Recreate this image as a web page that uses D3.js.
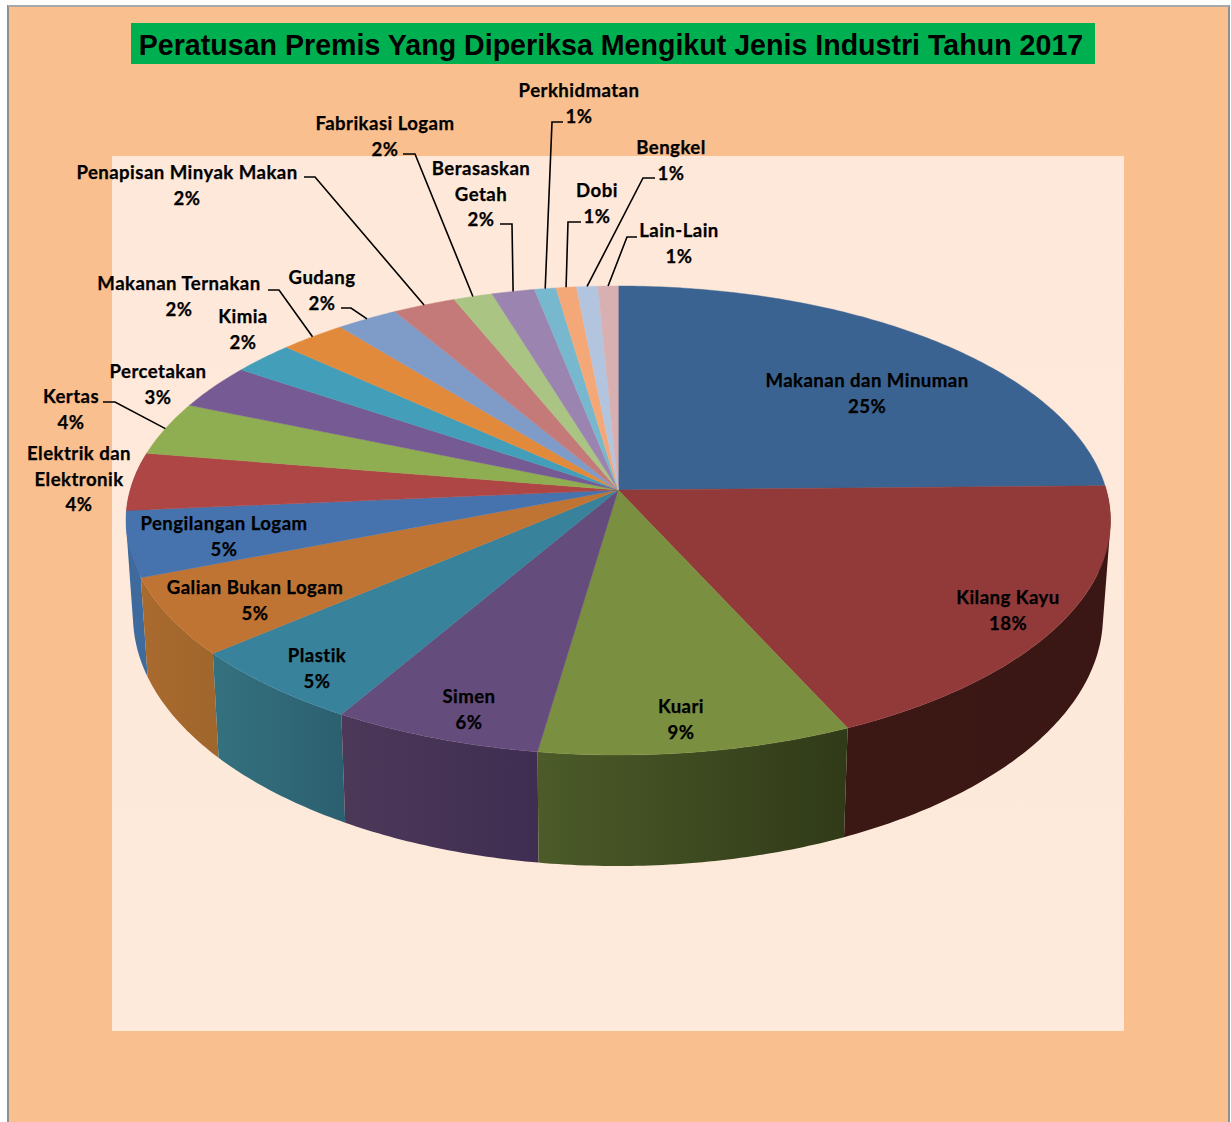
<!DOCTYPE html>
<html><head><meta charset="utf-8">
<script src="https://cdn.jsdelivr.net/npm/d3@7/dist/d3.min.js"></script>
<style>html,body{margin:0;padding:0;background:#fff}svg{display:block}</style>
</head><body><svg id="c" width="1231" height="1122"></svg>
<script>
const titleText = "Peratusan Premis Yang Diperiksa Mengikut Jenis Industri Tahun 2017";
const categories = ["Makanan dan Minuman","Kilang Kayu","Kuari","Simen","Plastik","Galian Bukan Logam","Pengilangan Logam","Elektrik dan Elektronik","Kertas","Percetakan","Kimia","Makanan Ternakan","Gudang","Penapisan Minyak Makan","Fabrikasi Logam","Berasaskan Getah","Perkhidmatan","Dobi","Bengkel","Lain-Lain"];
const values = [24.7,18.5,9.1,6.1,5.35,5.35,4.5,4,3.7,3.15,2.3,2.45,2.3,2.35,1.45,1.6,0.8,0.75,0.8,0.75];
const percentLabels = ["25%","18%","9%","6%","5%","5%","5%","4%","4%","3%","2%","2%","2%","2%","2%","2%","1%","1%","1%","1%"];
const topColors = ["#3b6391","#923a3a","#7a9040","#644c7c","#38829c","#bf7433","#4673ae","#ae4645","#8fae52","#755a94","#439fb9","#e28a3c","#7f9bc8","#c57a7a","#aac484","#9b85b0","#78b8ce","#f4a878","#b3c4de","#d9b0b2"];
const wallColorsA = ["#2a4668","#3c1815","#4c5b29","#4c3859","#34717f","#a96a2e","#3f6a9e","#7d3231","#66803a","#544069","#2f7284","#a2632a","#5b6f90","#8e5757","#7a8d5e","#6f5f7e","#56849a","#af7956","#808d9f","#9c7e80"];
const wallColorsB = ["#2a4668","#3a1714","#303a18","#3f2e52","#2c6070","#a0662c","#3f6a9e","#7d3231","#66803a","#544069","#2f7284","#a2632a","#5b6f90","#8e5757","#7a8d5e","#6f5f7e","#56849a","#af7956","#808d9f","#9c7e80"];

// label layout: centre x and first baseline y, lines of the name
const labelLayout = [
 [867,387],[1008,604],[681,713],[469,703],[317,662],[255,594],[224,530],[79,460],[71,403],[158,378],
 [243,323],[179,290],[322,284],[187,179],[385,130],[481,175],[579,97],[597,197],[671,154],[679,237]];
const labelLines = {7:["Elektrik dan","Elektronik"],15:["Berasaskan","Getah"]};
// leader elbows: start, elbow; the far end is computed on the slice rim
const leaders = {8:[[103,402],[115,402]],11:[[268,290],[279,290]],12:[[341,308],[351,308]],13:[[304,177],[315,177]],14:[[403,154],[415,154]],15:[[500,224],[512,224]],16:[[563,122],[552,122]],17:[[581,222],[568,222]],18:[[655,178],[643,178]],19:[[637,237],[627,237]]};

const svg = d3.select("#c");
const W=1231,H=1122;
const defs = svg.append("defs");
const panelGrad = defs.append("linearGradient").attr("id","panel").attr("x1",0).attr("x2",0).attr("y1",0).attr("y2",1);
panelGrad.append("stop").attr("offset",0).attr("stop-color","#fee8d9");
panelGrad.append("stop").attr("offset",1).attr("stop-color","#fdeadb");

// backdrop
svg.append("rect").attr("x",8).attr("y",6).attr("width",1221).attr("height",H-6).attr("fill","#f9bf8f");
svg.append("path").attr("d","M8 1122V6H1229V1122").attr("fill","none").attr("stroke","#8f8f8f").attr("stroke-width",2);
svg.append("path").attr("d","M8 6H1229").attr("fill","none").attr("stroke","#a8a8a8").attr("stroke-width",2);
svg.append("rect").attr("x",112).attr("y",156).attr("width",1012).attr("height",875).attr("fill","url(#panel)");

// title
svg.append("rect").attr("x",131).attr("y",23).attr("width",964).attr("height",41).attr("fill","#00b050");
svg.append("text").attr("x",611).attr("y",55).attr("text-anchor","middle")
  .attr("font-family","'Liberation Sans',Arial,sans-serif").attr("font-weight",700).attr("font-size",28.6)
  .attr("fill","#000").text(titleText);

// projective disc: same perspective for the top face and the base ellipse
const q = 0.13, sq = Math.sqrt(1-q*q);
const topX = d3.scaleLinear().domain([-1,1]).range([126,1110.5]);
const topY = d3.scaleLinear().domain([-1,1]).range([286,755]);
const botX = d3.scaleLinear().domain([-1,1]).range([133,1103]);
const botY = d3.scaleLinear().domain([-1,1]).range([366,866]);
function proj(a,sx,sy,r=1){
  const X=Math.sin(a)*r, Y=-Math.cos(a)*r, d=1-q*Y;
  return [sx(X*sq/d), sy((Y-q)/d)];
}
const pie = d3.pie().sort(null).value(d=>d)(values);
const line = d3.line();
const sample = (a0,a1)=>{const n=Math.max(2,Math.ceil((a1-a0)/0.012));return d3.range(n+1).map(i=>a0+(a1-a0)*i/n);};
// all quads wound the same way, so overlaps never cancel under the nonzero rule
const wound = p => d3.polygonArea(p)<0 ? p.slice().reverse() : p;

// side walls (only those turned towards the viewer), far ones first; swept quads in one path keep the silhouette full
const wallGroup = svg.append("g");
const order = d3.range(values.length)
  .filter(i=>pie[i].endAngle>Math.PI/2 && pie[i].startAngle<Math.PI*1.5)
  .sort((a,b)=>Math.abs((pie[b].startAngle+pie[b].endAngle)/2-Math.PI)-Math.abs((pie[a].startAngle+pie[a].endAngle)/2-Math.PI));
order.forEach(i=>{
  const s=sample(pie[i].startAngle,pie[i].endAngle);
  const top=s.map(a=>proj(a,topX,topY)), bot=s.map(a=>proj(a,botX,botY));
  const g=defs.append("linearGradient").attr("id","w"+i).attr("gradientUnits","userSpaceOnUse")
    .attr("x1",top[top.length-1][0]).attr("x2",top[0][0]).attr("y1",0).attr("y2",0);
  g.append("stop").attr("offset",0).attr("stop-color",wallColorsA[i]);
  g.append("stop").attr("offset",1).attr("stop-color",wallColorsB[i]);
  const d=d3.range(s.length-1).map(k=>line(wound([top[k],top[k+1],bot[k+1],bot[k]]))+"Z").join("");
  wallGroup.append("path").attr("d",d).attr("fill",`url(#w${i})`).attr("fill-rule","nonzero");
});

// top face
const c0 = proj(0,topX,topY,0);
svg.append("g").selectAll("path").data(pie).join("path")
  .attr("d",d=>line([c0].concat(sample(d.startAngle,d.endAngle).map(a=>proj(a,topX,topY))))+"Z")
  .attr("fill",(d,i)=>topColors[i]).attr("stroke",(d,i)=>topColors[i]).attr("stroke-width",0.4);

// leader lines
const lg = svg.append("g").attr("fill","none").attr("stroke","#000").attr("stroke-width",1.6);
Object.keys(leaders).forEach(k=>{
  const m=(pie[k].startAngle+pie[k].endAngle)/2;
  lg.append("path").attr("d",line(leaders[k].concat([proj(m,topX,topY)])));
});

// labels
const tg = svg.append("g").attr("font-family","Lato,'Open Sans',sans-serif").attr("font-weight",700)
  .attr("font-size",18.6).attr("letter-spacing",0.45).attr("fill","#000").attr("stroke","#000").attr("stroke-width",0.25).attr("text-anchor","middle");
categories.forEach((c,i)=>{
  const rows=(labelLines[i]||[c]).concat(percentLabels[i]);
  rows.forEach((t,r)=>tg.append("text").attr("x",labelLayout[i][0]).attr("y",labelLayout[i][1]+r*25.5).text(t));
});
</script></body></html>
